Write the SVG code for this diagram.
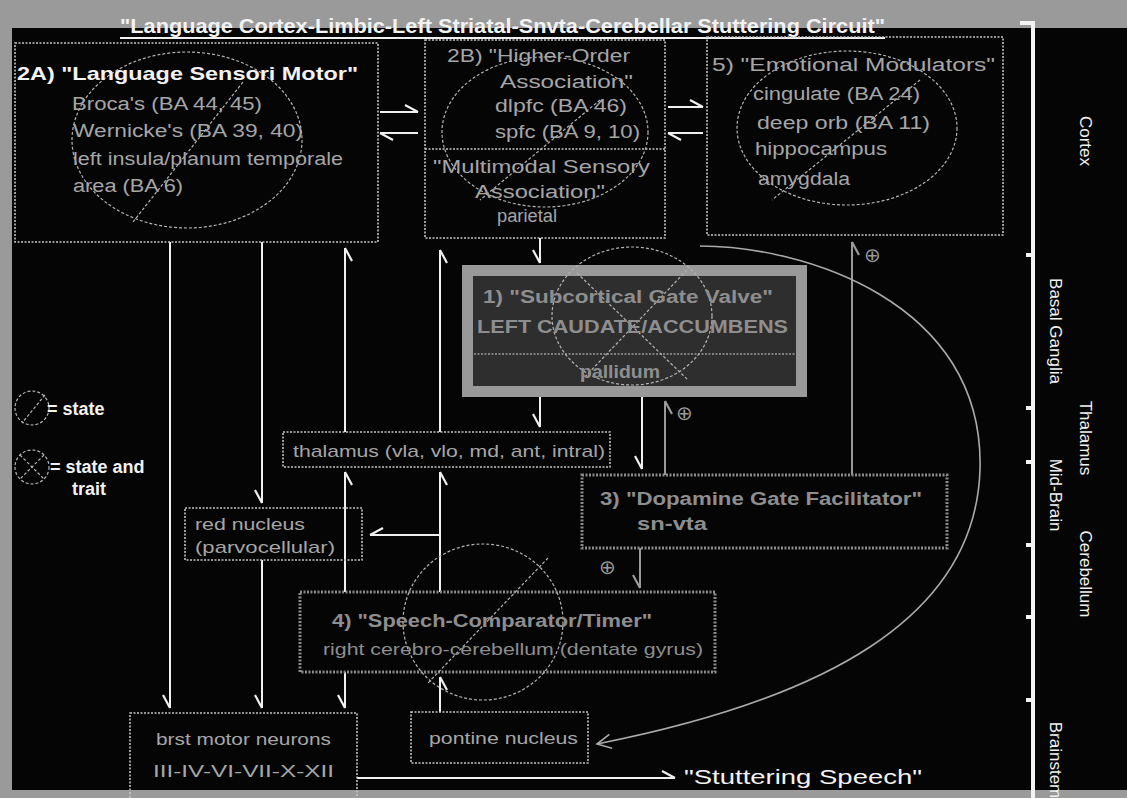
<svg xmlns="http://www.w3.org/2000/svg" width="1127" height="798" viewBox="0 0 1127 798">
<defs>
<style>
text{font-family:"Liberation Sans",Arial,sans-serif;}
.w{fill:#f2f2f2;}
.g{fill:#a6a6a6;}
.gd{fill:#8e8e8e;}
.box{fill:none;stroke:#c4c4c4;stroke-width:1.6;stroke-dasharray:2 1.5;}
.gbox{fill:none;stroke:#8a8a8a;stroke-width:3;stroke-dasharray:2 1.5;}
.ell{fill:none;stroke:#b4b4b4;stroke-width:1.2;stroke-dasharray:3 2;}
.c{fill:none;stroke:#f0f0f0;stroke-width:2;}
.cg{fill:none;stroke:#9a9a9a;stroke-width:2;}
.op{font-family:"DejaVu Sans",sans-serif;fill:#9a9a9a;font-size:20px;}
</style>
<marker id="ba" markerUnits="userSpaceOnUse" orient="auto" markerWidth="1" markerHeight="1" style="overflow:visible"><path d="M0,0 L-13,7" fill="none" stroke="#f0f0f0" stroke-width="2.2"/></marker>
<marker id="bb" markerUnits="userSpaceOnUse" orient="auto" markerWidth="1" markerHeight="1" style="overflow:visible"><path d="M0,0 L-13,-7" fill="none" stroke="#f0f0f0" stroke-width="2.2"/></marker>
<marker id="gba" markerUnits="userSpaceOnUse" orient="auto" markerWidth="1" markerHeight="1" style="overflow:visible"><path d="M0,0 L-13,7" fill="none" stroke="#9a9a9a" stroke-width="2.2"/></marker>
<marker id="gv" markerUnits="userSpaceOnUse" orient="auto" markerWidth="1" markerHeight="1" style="overflow:visible"><path d="M-14,-7 L0,0 L-14,7" fill="none" stroke="#aaaaaa" stroke-width="1.6"/></marker>
</defs>

<rect width="1127" height="798" fill="#9a9a9a"/>
<rect x="12" y="28" width="1115" height="762" fill="#050505"/>

<g id="title">
<text x="120" y="33" font-size="20" font-weight="bold" class="w" textLength="765" lengthAdjust="spacingAndGlyphs">"Language Cortex-Limbic-Left Striatal-Snvta-Cerebellar Stuttering Circuit"</text>
<line x1="120" y1="38" x2="885" y2="38" stroke="#f0f0f0" stroke-width="2"/>
</g>

<g id="scale">
<path d="M1020,23 H1033 V798" fill="none" stroke="#f4f4f4" stroke-width="4"/>
<g fill="#f4f4f4">
<rect x="1026" y="253" width="7" height="4"/>
<rect x="1026" y="406" width="7" height="4"/>
<rect x="1026" y="460" width="7" height="4"/>
<rect x="1026" y="543" width="7" height="4"/>
<rect x="1026" y="615" width="7" height="4"/>
<rect x="1026" y="698" width="7" height="4"/>
</g>
<g font-size="17" class="w">
<text transform="translate(1080,141) rotate(90)" text-anchor="middle">Cortex</text>
<text transform="translate(1050,331) rotate(90)" text-anchor="middle">Basal Ganglia</text>
<text transform="translate(1080,438) rotate(90)" text-anchor="middle">Thalamus</text>
<text transform="translate(1050,495) rotate(90)" text-anchor="middle">Mid-Brain</text>
<text transform="translate(1080,574) rotate(90)" text-anchor="middle">Cerebellum</text>
<text transform="translate(1050,760) rotate(90)" text-anchor="middle">Brainstem</text>
</g>
</g>

<g id="legend">
<circle cx="32" cy="408" r="17" class="ell"/>
<line x1="45" y1="395" x2="22" y2="423" class="ell"/>
<text x="47" y="415" font-size="18" font-weight="bold" class="w">= state</text>
<circle cx="32" cy="467" r="17" class="ell"/>
<line x1="44" y1="455" x2="20" y2="479" class="ell"/>
<line x1="20" y1="455" x2="44" y2="479" class="ell"/>
<text x="50" y="473" font-size="18" font-weight="bold" class="w">= state and</text>
<text x="72" y="495" font-size="18" font-weight="bold" class="w">trait</text>
</g>

<g id="connectors">
<!-- between cortex boxes -->
<line x1="380" y1="112" x2="418" y2="112" class="c" marker-end="url(#bb)"/>
<line x1="418" y1="133" x2="380" y2="133" class="c" marker-end="url(#bb)"/>
<line x1="668" y1="107" x2="703" y2="107" class="c" marker-end="url(#bb)"/>
<line x1="703" y1="133" x2="668" y2="133" class="c" marker-end="url(#bb)"/>
<!-- verticals from 2A -->
<line x1="170" y1="242" x2="170" y2="708" class="c" marker-end="url(#ba)"/>
<line x1="262" y1="242" x2="262" y2="503" class="c" marker-end="url(#ba)"/>
<line x1="262" y1="560" x2="262" y2="708" class="c" marker-end="url(#ba)"/>
<line x1="345" y1="432" x2="345" y2="248" class="c" marker-end="url(#ba)"/>
<line x1="345" y1="592" x2="345" y2="472" class="c" marker-end="url(#ba)"/>
<line x1="345" y1="672" x2="345" y2="708" class="c" marker-end="url(#ba)"/>
<!-- x=440 -->
<line x1="440" y1="432" x2="440" y2="250" class="c" marker-end="url(#ba)"/>
<line x1="440" y1="592" x2="440" y2="472" class="c" marker-end="url(#ba)"/>
<line x1="440" y1="535" x2="370" y2="535" class="c" marker-end="url(#ba)"/>
<line x1="440" y1="712" x2="440" y2="677" class="c" marker-end="url(#ba)"/>
<!-- x=540 -->
<line x1="540" y1="238" x2="540" y2="263" class="c" marker-end="url(#ba)"/>
<line x1="540" y1="397" x2="540" y2="427" class="c" marker-end="url(#ba)"/>
<!-- under box 1 -->
<line x1="642" y1="397" x2="642" y2="469" class="c" marker-end="url(#ba)"/>
<line x1="665" y1="475" x2="665" y2="401" class="cg" marker-end="url(#gba)"/>
<line x1="852" y1="475" x2="852" y2="242" class="cg" marker-end="url(#gba)"/>
<line x1="640" y1="548" x2="640" y2="588" class="cg" marker-end="url(#gba)"/>
<!-- big curve -->
<path d="M700,246 C800,246 985,300 980,470 C975,620 820,700 597,744" fill="none" stroke="#aaaaaa" stroke-width="1.6" marker-end="url(#gv)"/>
<!-- output -->
<line x1="357" y1="778" x2="675" y2="778" class="c" marker-end="url(#bb)"/>
</g>
<text x="676" y="420" class="op">⊕</text>
<text x="864" y="262" class="op">⊕</text>
<text x="599" y="574" class="op">⊕</text>

<g id="n2A">
<rect x="15" y="43" width="363" height="199" class="box"/>
<ellipse cx="187" cy="140" rx="115" ry="88" class="ell"/>
<line x1="243" y1="82" x2="133" y2="222" class="ell"/>
<text x="17" y="80" font-size="19" font-weight="bold" class="w" textLength="341" lengthAdjust="spacingAndGlyphs">2A)  "Language Sensori Motor"</text>
<g font-size="18" class="g">
<text x="72" y="110" textLength="190" lengthAdjust="spacingAndGlyphs">Broca's (BA 44, 45)</text>
<text x="73" y="137" textLength="230" lengthAdjust="spacingAndGlyphs">Wernicke's (BA 39, 40)</text>
<text x="73" y="165" textLength="270" lengthAdjust="spacingAndGlyphs">left insula/planum temporale</text>
<text x="73" y="192" textLength="110" lengthAdjust="spacingAndGlyphs">area (BA 6)</text>
</g>
</g>

<g id="n2B">
<rect x="425" y="40" width="240" height="198" class="box"/>
<line x1="425" y1="149" x2="665" y2="149" class="box"/>
<ellipse cx="545" cy="132" rx="103" ry="75" class="ell"/>
<line x1="600" y1="100" x2="480" y2="200" class="ell"/>
<g font-size="18" class="g">
<text x="447" y="62" textLength="183" lengthAdjust="spacingAndGlyphs">2B) "Higher-Order</text>
<text x="500" y="88" textLength="133" lengthAdjust="spacingAndGlyphs">Association"</text>
<text x="495" y="112" textLength="132" lengthAdjust="spacingAndGlyphs">dlpfc (BA 46)</text>
<text x="495" y="138" textLength="145" lengthAdjust="spacingAndGlyphs">spfc (BA 9, 10)</text>
<text x="433" y="173" textLength="217" lengthAdjust="spacingAndGlyphs">"Multimodal Sensory</text>
<text x="475" y="198" textLength="130" lengthAdjust="spacingAndGlyphs">Association"</text>
<text x="497" y="222" textLength="60" lengthAdjust="spacingAndGlyphs">parietal</text>
</g>
</g>

<g id="n5">
<rect x="707" y="37" width="296" height="198" class="box"/>
<ellipse cx="847" cy="128" rx="110" ry="77" class="ell"/>
<line x1="920" y1="80" x2="772" y2="200" class="ell"/>
<g font-size="18" class="g">
<text x="712" y="71" textLength="283" lengthAdjust="spacingAndGlyphs">5)  "Emotional Modulators"</text>
<text x="753" y="100" textLength="167" lengthAdjust="spacingAndGlyphs">cingulate (BA 24)</text>
<text x="757" y="129" textLength="173" lengthAdjust="spacingAndGlyphs">deep orb (BA 11)</text>
<text x="755" y="155" textLength="132" lengthAdjust="spacingAndGlyphs">hippocampus</text>
<text x="758" y="185" textLength="92" lengthAdjust="spacingAndGlyphs">amygdala</text>
</g>
</g>

<g id="n1">
<rect x="467.5" y="270.5" width="334" height="121" fill="#2e2e2e" stroke="#999999" stroke-width="11"/>
<line x1="474" y1="354" x2="795" y2="354" stroke="#9a9a9a" stroke-width="1.5" stroke-dasharray="2 1.5"/>
<ellipse cx="632" cy="316" rx="80" ry="69" class="ell"/>
<line x1="577" y1="273" x2="688" y2="380" class="ell"/>
<line x1="687" y1="270" x2="580" y2="382" class="ell"/>
<g font-size="18" font-weight="bold" class="gd">
<text x="483" y="303" textLength="290" lengthAdjust="spacingAndGlyphs">1)  "Subcortical Gate Valve"</text>
<text x="477" y="333" textLength="311" lengthAdjust="spacingAndGlyphs">LEFT CAUDATE/ACCUMBENS</text>
<text x="580" y="378" textLength="80" lengthAdjust="spacingAndGlyphs">pallidum</text>
</g>
</g>

<g id="thalamus">
<rect x="283" y="432" width="327" height="35" class="box"/>
<text x="293" y="457" font-size="17" class="g" textLength="312" lengthAdjust="spacingAndGlyphs">thalamus (vla, vlo, md, ant, intral)</text>
</g>

<g id="redNucleus">
<rect x="185" y="508" width="177" height="52" class="box"/>
<text x="195" y="530" font-size="17" class="g" textLength="110" lengthAdjust="spacingAndGlyphs">red nucleus</text>
<text x="195" y="553" font-size="17" class="g" textLength="140" lengthAdjust="spacingAndGlyphs">(parvocellular)</text>
</g>

<g id="n3">
<rect x="582" y="475" width="365" height="73" class="gbox"/>
<text x="600" y="505" font-size="18" font-weight="bold" class="gd" textLength="322" lengthAdjust="spacingAndGlyphs">3)  "Dopamine Gate Facilitator"</text>
<text x="637" y="530" font-size="18" font-weight="bold" class="gd" textLength="70" lengthAdjust="spacingAndGlyphs">sn-vta</text>
</g>

<g id="n4">
<rect x="300" y="592" width="415" height="80" class="gbox"/>
<ellipse cx="483" cy="622" rx="80" ry="78" class="ell"/>
<line x1="548" y1="558" x2="428" y2="683" class="ell"/>
<text x="332" y="627" font-size="18" font-weight="bold" class="gd" textLength="320" lengthAdjust="spacingAndGlyphs">4)  "Speech-Comparator/Timer"</text>
<text x="323" y="655" font-size="17" class="gd" textLength="380" lengthAdjust="spacingAndGlyphs">right cerebro-cerebellum (dentate gyrus)</text>
</g>

<g id="motorNeurons">
<rect x="130" y="713" width="227" height="90" class="box"/>
<text x="156" y="745" font-size="17" class="g" textLength="175" lengthAdjust="spacingAndGlyphs">brst motor neurons</text>
<text x="153" y="777" font-size="17" class="g" textLength="181" lengthAdjust="spacingAndGlyphs">III-IV-VI-VII-X-XII</text>
</g>

<g id="pontine">
<rect x="411" y="712" width="177" height="51" class="box"/>
<text x="429" y="744" font-size="17" class="g" textLength="149" lengthAdjust="spacingAndGlyphs">pontine nucleus</text>
</g>

<g id="output">
<text x="684" y="784" font-size="21" class="w" textLength="238" lengthAdjust="spacingAndGlyphs">"Stuttering Speech"</text>
</g>
</svg>
